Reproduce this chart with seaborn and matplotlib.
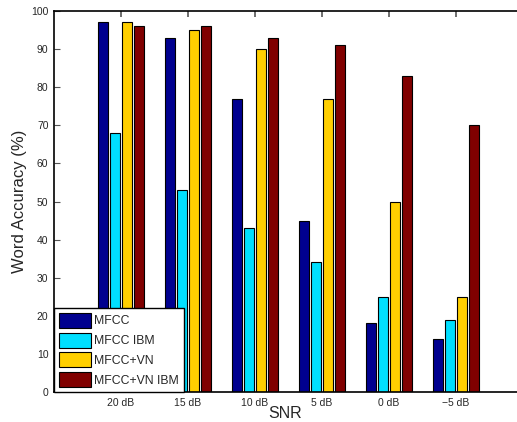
import pandas as pd
import matplotlib
matplotlib.use("Agg")
import matplotlib.pyplot as plt
import seaborn as sns

snr = ['20 dB', '15 dB', '10 dB', '5 dB', '0 dB', '\u22125 dB']
mfcc = [97, 93, 77, 45, 18, 14]
mfcc_ibm = [68, 53, 43, 34, 25, 19]
mfcc_vn = [97, 95, 90, 77, 50, 25]
mfcc_vn_ibm = [96, 96, 93, 91, 83, 70]
series = ['MFCC', 'MFCC IBM', 'MFCC+VN', 'MFCC+VN IBM']
colors = ['#00008F', '#00DFFF', '#FFCF00', '#800000']

rows = []
for name, vals in zip(series, [mfcc, mfcc_ibm, mfcc_vn, mfcc_vn_ibm]):
    for s, v in zip(snr, vals):
        rows.append({'SNR': s, 'acc': v, 'method': name})
df = pd.DataFrame(rows)

sns.set_style('ticks')
plt.rcParams['font.family'] = ['Liberation Sans', 'DejaVu Sans']

fig = plt.figure(figsize=(5.17, 4.22), dpi=100)
ax = fig.add_axes([54/517, 30/422, 463/517, 381/422])

sns.barplot(data=df, x='SNR', y='acc', hue='method', order=snr, hue_order=series,
            palette=colors, width=0.73, gap=0.2, edgecolor='black', linewidth=0.8,
            saturation=1, ax=ax)

ax.set_xlim(-1, 5.91)
ax.set_ylim(0, 100)
ax.set_yticks(range(0, 101, 10))
ax.set_xlabel('SNR', fontsize=11.5, labelpad=-1)
ax.set_ylabel('Word Accuracy (%)', fontsize=12, labelpad=3)
ax.tick_params(axis='y', direction='in', length=4, width=0.8, labelsize=7.5,
               left=True, right=False, pad=4, color='#555555')
ax.tick_params(axis='x', direction='in', length=4, width=1.2, labelsize=7.5,
               top=True, bottom=False, pad=4, color='#555555')
for side in ['left', 'top', 'bottom']:
    ax.spines[side].set_color('black')
    ax.spines[side].set_linewidth(1.2)
ax.spines['right'].set_visible(False)

leg = ax.legend(loc='lower left', borderaxespad=0, fancybox=False, framealpha=1,
                edgecolor='black', fontsize=8.8, handlelength=2.6, handleheight=1.5,
                labelspacing=0.4, handletextpad=0.3, borderpad=0.4)
leg.get_frame().set_linewidth(1.0)

fig.savefig('out.png', dpi=100)
